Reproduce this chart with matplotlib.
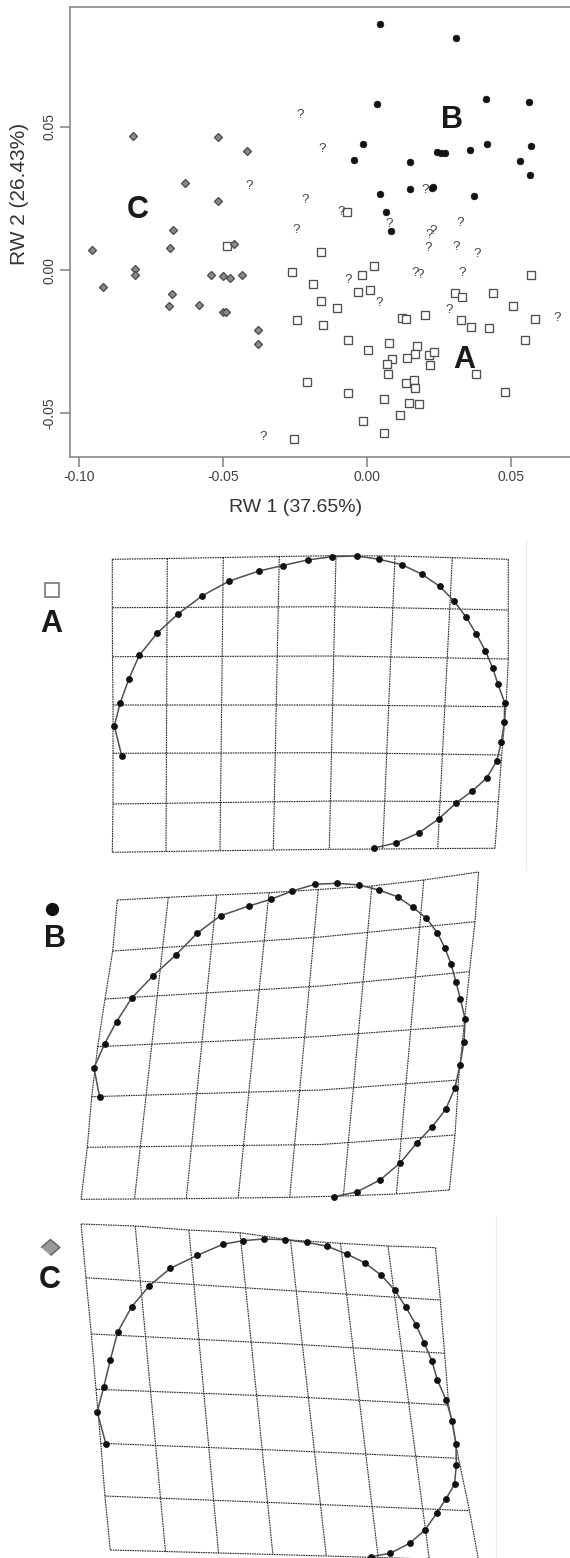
import matplotlib
matplotlib.use('Agg')
import matplotlib.pyplot as plt

plt.rcParams['font.family'] = ['Liberation Sans', 'DejaVu Sans']

# ---------------- scatter data (RW1, RW2) ----------------
A_x = [-0.0486, -0.0258, -0.0243, -0.0252, -0.0069, -0.0159, 0.0027, -0.0017, -0.0188, -0.0031,
       0.0013, 0.0306, 0.0330, 0.0438, 0.0572, -0.0160, -0.0102, -0.0153, 0.0122, 0.0135,
       0.0201, 0.0509, 0.0586, 0.0327, 0.0362, 0.0424, 0.0550, -0.0066, 0.0076, 0.0005,
       0.0175, 0.0168, 0.0141, 0.0088, 0.0069, 0.0216, 0.0233, 0.0219, 0.0378, 0.0073,
       -0.0206, 0.0135, 0.0164, 0.0169, -0.0064, 0.0061, 0.0146, 0.0183, 0.0481, 0.0116,
       -0.0012, 0.0059]
A_y = [0.0084, -0.0007, -0.0174, -0.0590, 0.0201, 0.0062, 0.0015, -0.0019, -0.0049, -0.0078,
       -0.0070, -0.0081, -0.0093, -0.0079, -0.0017, -0.0107, -0.0134, -0.0193, -0.0166, -0.0170,
       -0.0157, -0.0127, -0.0170, -0.0174, -0.0199, -0.0202, -0.0244, -0.0244, -0.0255, -0.0278,
       -0.0265, -0.0293, -0.0307, -0.0312, -0.0327, -0.0297, -0.0286, -0.0331, -0.0364, -0.0362,
       -0.0391, -0.0394, -0.0383, -0.0412, -0.0430, -0.0449, -0.0463, -0.0468, -0.0426, -0.0506,
       -0.0528, -0.0570]

B_x = [0.0046, 0.0309, 0.0037, 0.0413, 0.0565, -0.0013, -0.0044, 0.0151, 0.0243, 0.0259,
       0.0271, 0.0360, 0.0419, 0.0572, 0.0532, 0.0568, 0.0150, 0.0226, 0.0231, 0.0046,
       0.0373, 0.0068, 0.0084]
B_y = [0.0858, 0.0811, 0.0580, 0.0597, 0.0586, 0.0439, 0.0384, 0.0377, 0.0412, 0.0409,
       0.0408, 0.0419, 0.0441, 0.0432, 0.0380, 0.0333, 0.0283, 0.0285, 0.0288, 0.0264,
       0.0257, 0.0201, 0.0135]

C_x = [-0.0810, -0.0515, -0.0417, -0.0630, -0.0515, -0.0673, -0.0683, -0.0460, -0.0955, -0.0805,
       -0.0806, -0.0917, -0.0540, -0.0500, -0.0475, -0.0433, -0.0676, -0.0688, -0.0581, -0.0500,
       -0.0490, -0.0378, -0.0376]
C_y = [0.0468, 0.0465, 0.0416, 0.0304, 0.0241, 0.0140, 0.0078, 0.0090, 0.0069, 0.0005,
       -0.0019, -0.0060, -0.0017, -0.0021, -0.0029, -0.0017, -0.0084, -0.0127, -0.0121, -0.0148,
       -0.0148, -0.0209, -0.0258]

U_x = [-0.0231, -0.0408, -0.0155, -0.0214, -0.0245, -0.0089, 0.0204, 0.0079, 0.0216, 0.0231,
       0.0324, 0.0215, 0.0309, 0.0382, 0.0168, 0.0185, 0.0330, -0.0064, 0.0043, 0.0288,
       0.0660, -0.0359]
U_y = [0.0542, 0.0294, 0.0421, 0.0244, 0.0140, 0.0201, 0.0279, 0.0160, 0.0122, 0.0137,
       0.0165, 0.0076, 0.0081, 0.0055, -0.0012, -0.0019, -0.0012, -0.0035, -0.0114, -0.0140,
       -0.0169, -0.0584]

group_labels = ['A', 'B', 'C']
group_label_x = [0.03372, 0.02968, -0.0796]
group_label_y = [-0.03409, 0.04944, 0.01804]

x_ticks = [-0.10, -0.05, 0.00, 0.05]
x_tick_labels = ['-0.10', '-0.05', '0.00', '0.05']
y_ticks = [-0.05, 0.00, 0.05]
y_tick_labels = ['-0.05', '0.00', '0.05']
x_label = 'RW 1 (37.65%)'
y_label = 'RW 2 (26.43%)'

# ---------------- deformation grids (image units) ----------------
# Panel A
A_top_x = [112.3, 167.3, 223.3, 279.3, 336.0, 395.0, 452.3, 508.3]
A_top_y = [559.3, 558.5, 557.5, 556.5, 555.7, 556.0, 557.7, 559.3]
A_bot_x = [112.3, 166.0, 220.0, 273.3, 329.3, 382.7, 437.7, 495.0]
A_bot_y = [852.3, 851.5, 850.7, 850.0, 849.3, 849.0, 848.5, 848.3]
A_left_x = [112.3, 112.3, 112.5, 113.0, 113.0, 113.0, 112.3]
A_left_y = [559.3, 607.7, 656.7, 705.0, 753.3, 804.0, 852.3]
A_right_x = [508.3, 508.3, 508.3, 506.0, 501.7, 498.3, 495.0]
A_right_y = [559.3, 610.0, 659.0, 706.7, 755.0, 801.7, 848.3]
A_mid_x = [336.5, 336.5, 336.5, 336.5, 336.5]
A_mid_y = [606.7, 656.0, 705.0, 752.7, 801.0]
A_cx = [374.3, 395.7, 418.7, 439.0, 456.0, 472.3, 486.7, 496.7, 501.3, 504.3, 504.7, 498.0,
        492.7, 485.3, 476.3, 466.0, 453.7, 439.7, 422.0, 402.0, 379.3, 356.7, 331.7, 307.5,
        282.7, 259.0, 229.3, 202.3, 178.3, 157.0, 139.3, 128.7, 120.3, 114.3, 121.7]
A_cy = [848.0, 843.0, 833.0, 818.7, 803.0, 791.0, 778.0, 761.0, 742.0, 722.3, 702.7, 684.3,
        668.0, 650.7, 634.0, 617.0, 600.7, 586.3, 574.3, 564.7, 559.3, 556.0, 556.7, 560.0,
        565.5, 571.0, 581.0, 595.7, 613.7, 633.3, 655.3, 679.3, 702.7, 726.0, 755.7]

# Panel B
B_top_x = [117.3, 168.3, 216.7, 269.0, 318.3, 371.9, 423.8, 478.6]
B_top_y = [900.0, 897.3, 895.0, 892.7, 889.5, 886.0, 880.0, 872.0]
B_bot_x = [81.1, 134.5, 186.3, 238.2, 289.7, 343.4, 396.4, 449.4]
B_bot_y = [1199.3, 1199.0, 1198.7, 1198.0, 1197.3, 1196.0, 1194.0, 1190.0]
B_left_x = [117.3, 112.7, 105.0, 97.7, 91.7, 87.3, 81.1]
B_left_y = [900.0, 951.0, 999.0, 1046.7, 1096.7, 1147.3, 1199.3]
B_right_x = [478.6, 475.0, 469.5, 464.0, 458.5, 455.0, 449.4]
B_right_y = [872.0, 921.7, 971.7, 1025.7, 1080.0, 1135.0, 1190.0]
B_mid_x = [320.8, 320.8, 320.8, 320.8, 320.8]
B_mid_y = [937.0, 986.0, 1036.5, 1090.0, 1144.5]
B_cx = [334.3, 356.6, 380.0, 400.4, 416.5, 432.2, 445.7, 454.9, 460.0, 464.0, 465.1, 460.4,
        456.0, 451.2, 445.0, 437.3, 426.4, 412.9, 397.5, 378.9, 359.2, 337.0, 315.0, 292.3,
        270.7, 249.0, 220.5, 197.0, 175.5, 152.5, 131.5, 116.5, 104.5, 94.0, 99.5]
B_cy = [1196.7, 1192.0, 1180.0, 1162.7, 1143.3, 1126.7, 1109.3, 1088.0, 1065.0, 1041.7, 1019.0, 999.0,
        982.3, 964.3, 948.3, 932.7, 918.3, 907.3, 896.7, 890.0, 885.0, 883.3, 884.3, 891.0,
        899.3, 906.0, 915.7, 933.3, 955.3, 976.3, 998.3, 1021.7, 1044.0, 1067.7, 1096.7]

# Panel C
C_top_x = [81.1, 135.2, 188.9, 240.0, 290.5, 340.5, 388.0, 435.5]
C_top_y = [1224.0, 1226.0, 1230.0, 1232.7, 1240.0, 1243.3, 1246.0, 1247.7]
C_bot_x = [110.3, 165.5, 218.5, 272.9, 326.3, 378.2, 429.3, 478.6]
C_bot_y = [1550.0, 1551.5, 1553.0, 1554.5, 1556.0, 1557.5, 1559.0, 1560.5]
C_left_x = [81.1, 85.9, 91.3, 96.0, 100.8, 104.9, 110.3]
C_left_y = [1224.0, 1277.7, 1334.0, 1389.3, 1443.3, 1496.0, 1550.0]
C_right_x = [435.5, 440.3, 444.6, 448.7, 458.5, 469.5, 478.6]
C_right_y = [1247.7, 1300.0, 1353.3, 1405.0, 1458.3, 1510.7, 1560.5]
C_mid_x = [290.5, 290.5, 290.5, 290.5, 290.5]
C_mid_y = [1290.7, 1344.0, 1396.7, 1450.7, 1503.3]
C_cx = [370.8, 390.2, 409.6, 424.9, 436.6, 445.7, 454.5, 456.3, 456.0, 452.3, 446.1, 437.3,
        431.9, 424.2, 415.8, 405.9, 394.6, 381.4, 364.6, 346.7, 327.4, 306.5, 285.3, 263.8,
        242.6, 222.9, 197.3, 170.3, 149.1, 131.5, 117.6, 110.3, 103.8, 97.2, 106.0]
C_cy = [1556.7, 1553.3, 1543.3, 1530.0, 1513.3, 1499.3, 1484.3, 1465.3, 1444.0, 1421.3, 1400.0, 1379.7,
        1361.0, 1342.7, 1324.7, 1307.0, 1290.0, 1275.3, 1262.7, 1254.0, 1246.3, 1242.3, 1239.7, 1239.0,
        1240.7, 1244.3, 1255.3, 1268.3, 1286.0, 1307.0, 1332.3, 1360.0, 1386.7, 1412.0, 1444.3]

panel_key_x = [52.3, 52.2, 50.0]
panel_key_y = [590.0, 909.0, 1246.7]
panel_text_x = [51.2, 54.8, 49.9]
panel_text_y = [631.7, 946.7, 1287.8]

# ---------------- figure ----------------
W, H = 570, 1558
fig = plt.figure(figsize=(W / 100, H / 100), dpi=100)


def rect(x0, y0, x1, y1):
    return [x0 / W, (H - y1) / H, (x1 - x0) / W, (y1 - y0) / H]


ax = fig.add_axes(rect(70, 7, 600, 457))
ax.set_xlim(-0.10302, 0.08101)
ax.set_ylim(-0.06525, 0.09177)

spine_col = '#808080'
for s in ['left', 'bottom', 'top']:
    ax.spines[s].set_color(spine_col)
    ax.spines[s].set_linewidth(1.1)
ax.spines['right'].set_visible(False)

ax.plot(A_x, A_y, ls='none', marker='s', ms=5.3, mfc='white', mec='#505050', mew=0.95, zorder=3)
ax.plot(B_x, B_y, ls='none', marker='o', ms=4.8, mfc='#111111', mec='#111111', mew=0.5, zorder=4)
ax.plot(C_x, C_y, ls='none', marker='D', ms=4.5, mfc='#8a8a8a', mec='#4c4c4c', mew=0.95, zorder=5)
for ux, uy in zip(U_x, U_y):
    ax.text(ux, uy, '?', ha='center', va='center', fontsize=9.5, color='#444444', zorder=6)
for lab, lx, ly in zip(group_labels, group_label_x, group_label_y):
    ax.text(lx, ly, lab, ha='center', va='baseline', fontsize=22, fontweight='bold',
            color='#1a1a1a', zorder=7)

ax.set_xticks(x_ticks)
ax.set_xticklabels(x_tick_labels)
ax.set_yticks(y_ticks)
ax.set_yticklabels(y_tick_labels)
ax.tick_params(direction='out', length=7, width=1.1, color=spine_col, labelsize=10,
               labelcolor='#404040', pad=2.7)
for lab in ax.get_yticklabels():
    lab.set_rotation(90)
    lab.set_va('center')

ax.set_xlabel(x_label, fontsize=14, color='#333333', va='center', ha='center')
ax.xaxis.set_label_coords((296 - 70) / 530, (457 - 508) / 450)
ax.set_ylabel(y_label, fontsize=15, color='#333333', va='center', ha='center')
ax.yaxis.set_label_coords((20 - 70) / 530, (457 - 194) / 450)

# ---------------- deformation panels ----------------
grid_kw = dict(color='#262626', lw=0.8, ls=(0, (1.5, 0.7)))


def draw_panel(axp, top_x, top_y, bot_x, bot_y, left_x, left_y, right_x, right_y,
               mid_x, mid_y, cx, cy):
    axp.plot(top_x, top_y, **grid_kw)
    axp.plot(bot_x, bot_y, **grid_kw)
    for i in range(1, 6):
        axp.plot([left_x[i], mid_x[i - 1], right_x[i]],
                 [left_y[i], mid_y[i - 1], right_y[i]], **grid_kw)
    axp.plot(left_x, left_y, **grid_kw)
    axp.plot(right_x, right_y, **grid_kw)
    for j in range(1, 7):
        axp.plot([top_x[j], bot_x[j]], [top_y[j], bot_y[j]], **grid_kw)
    axp.plot(cx, cy, '-', color='#505050', lw=1.1, zorder=3)
    axp.plot(cx, cy, ls='none', marker='o', ms=3.9, mfc='#111111', mec='#111111', zorder=4)


bands = [(530, 880), (860, 1215), (1205, 1558)]
axes_p = []
for (y0, y1) in bands:
    a = fig.add_axes(rect(0, y0, W, y1))
    a.set_xlim(0, W)
    a.set_ylim(y1, y0)
    a.set_axis_off()
    axes_p.append(a)

axA, axB, axC = axes_p
draw_panel(axA, A_top_x, A_top_y, A_bot_x, A_bot_y, A_left_x, A_left_y, A_right_x, A_right_y,
           A_mid_x, A_mid_y, A_cx, A_cy)
draw_panel(axB, B_top_x, B_top_y, B_bot_x, B_bot_y, B_left_x, B_left_y, B_right_x, B_right_y,
           B_mid_x, B_mid_y, B_cx, B_cy)
draw_panel(axC, C_top_x, C_top_y, C_bot_x, C_bot_y, C_left_x, C_left_y, C_right_x, C_right_y,
           C_mid_x, C_mid_y, C_cx, C_cy)

# faint frame edges
axA.plot([525.7, 525.7], [540, 870], color='#ececec', lw=1.0)
axC.plot([495.8, 495.8], [1216.7, 1558], color='#ececec', lw=1.0)

# panel keys
axA.plot(panel_key_x[0], panel_key_y[0], marker='s', ms=10.5, mfc='white', mec='#777777', mew=1.2)
axB.plot(panel_key_x[1], panel_key_y[1], marker='o', ms=8.5, mfc='#111111', mec='#111111')
axC.plot(panel_key_x[2], panel_key_y[2], marker=[(-1, 0), (0, 0.85), (1, 0), (0, -0.85)],
         ms=13.5, mfc='#999999', mec='#666666', mew=1.1)
for a, lab, tx, ty in zip(axes_p, group_labels, panel_text_x, panel_text_y):
    a.text(tx, ty, lab, ha='center', va='baseline', fontsize=22, fontweight='bold', color='#1a1a1a')

fig.savefig('out.png', dpi=100)
